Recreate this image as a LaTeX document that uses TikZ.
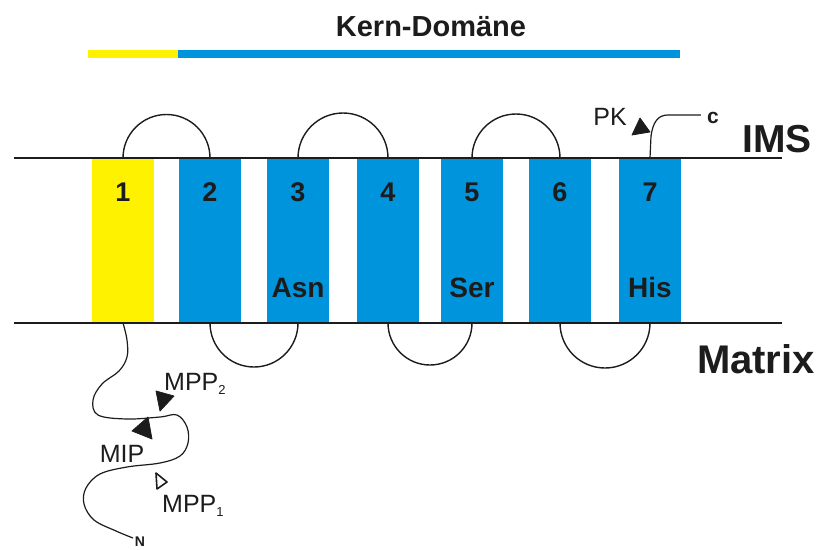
\documentclass[tikz,border=0pt]{standalone}
\usepackage{fontspec}
\setmainfont{Liberation Sans}
\definecolor{tmblue}{RGB}{0,148,221}
\definecolor{tmyellow}{RGB}{255,242,0}
\definecolor{ink}{RGB}{28,28,28}
\newcommand{\fs}[1]{\fontsize{#1}{#1}\selectfont}
\newcommand{\subsc}[1]{\raisebox{-4pt}{\fs{13}#1}}

\begin{document}
\begin{tikzpicture}[x=1pt,y=-1pt,
  helix/.style={minimum width=62pt, minimum height=165pt, inner sep=0pt, outer sep=0pt, draw=none},
  barpart/.style={minimum height=8pt, inner sep=0pt, outer sep=0pt, draw=none, anchor=west},
  wire/.style={draw=ink, line width=1.4pt},
  memline/.style={draw=ink, line width=1.4pt},
  num/.style={font=\bfseries\fs{27}, text=ink, anchor=base, inner sep=0pt},
  region/.style={font=\bfseries\fs{39}, text=ink, anchor=base, inner sep=0pt},
  site/.style={font=\fs{25}, text=ink, anchor=base, inner sep=0pt},
  cleave/.style={fill=ink, draw=ink, line width=0.8pt, line join=round},
  opencleave/.style={fill=white, draw=ink, line width=1.6pt, line join=round}]

\useasboundingbox (0,0) rectangle (819,549);

% core domain bar with title
\node[font=\bfseries\fs{29}, text=ink, anchor=base, inner sep=0pt] (title) at (431,36) {Kern-Domäne};
\node[barpart, fill=tmyellow, minimum width=90pt] (bary) at (88,54) {};
\node[barpart, fill=tmblue, minimum width=502pt] (barb) at (bary.east) {};

% transmembrane helices
\node[helix, fill=tmyellow] (h1) at (123,240.5) {};
\node[helix, fill=tmblue]   (h2) at (210,240.5) {};
\node[helix, fill=tmblue]   (h3) at (298,240.5) {};
\node[helix, fill=tmblue]   (h4) at (388,240.5) {};
\node[helix, fill=tmblue]   (h5) at (472,240.5) {};
\node[helix, fill=tmblue]   (h6) at (560,240.5) {};
\node[helix, fill=tmblue]   (h7) at (650,240.5) {};

% membrane boundaries
\coordinate (imsL) at (14,158);  \coordinate (imsR) at (782,158);
\coordinate (matL) at (14,323);  \coordinate (matR) at (782,323);
\draw[memline] (imsL) -- (imsR);
\draw[memline] (matL) -- (matR);

% helix numbers and residues
\foreach \i in {1,...,7} {
  \node[num] (n\i) at ([yshift=-43pt]h\i.north) {\i};
}
\node[num, font=\bfseries\fs{28}] (asn) at ([yshift=26pt]h3.south) {Asn};
\node[num, font=\bfseries\fs{28}] (ser) at ([yshift=26pt]h5.south) {Ser};
\node[num, font=\bfseries\fs{28}] (his) at ([yshift=26pt]h7.south) {His};

% loops in the intermembrane space
\draw[wire] (h1.north) arc[start angle=180, end angle=360, radius=43.5];
\draw[wire] (h3.north) arc[start angle=180, end angle=360, radius=45];
\draw[wire] (h5.north) arc[start angle=180, end angle=360, radius=44];
% loops in the matrix
\draw[wire] (h2.south) arc[start angle=180, end angle=0, radius=44];
\draw[wire] (h4.south) arc[start angle=180, end angle=0, radius=42];
\draw[wire] (h6.south) arc[start angle=180, end angle=0, radius=45];

% compartment labels
\node[region] (ims) at (777,152) {IMS};
\node[region, font=\bfseries\fs{40}] (matrix) at (756,373) {Matrix};

% C-terminus with kinase site
\node[font=\bfseries\fs{21}, text=ink, anchor=base, inner sep=0pt] (cterm) at (713,123) {c};
\draw[wire, line width=1.2pt] (h7.north) -- (651,136) .. controls (653,122) and (658,115) .. (668,115) -- ([xshift=-6pt]cterm.west |- 0,115);
\draw[cleave] (632,135) -- (640,118) -- (650,132) -- cycle;
\node[site] (pk) at (610,125) {PK};

% N-terminal presequence
\coordinate (nend) at (133,538);
\draw[wire, line width=1.2pt] plot[smooth, tension=0.6] coordinates {
  (h1.south) (127,340) (127,357) (119,371) (102,384) (93,400) (98,415) (127,419)
  (160,417) (177,415) (187,427) (188,443) (180,456) (160,463) (127,467)
  (100,474) (86,488) (84,504) (94,520) (116,531) (nend)};
\node[font=\bfseries\fs{14}, text=ink, anchor=base, inner sep=0pt] (nterm) at (140,546) {N};

% processing sites
\draw[cleave] (156,391) -- (174,396) -- (160,411) -- cycle;
\node[site, anchor=base west] (mpp2) at (164,390) {MPP\subsc{2}};
\draw[cleave] (132,431) -- (148,417) -- (152,439) -- cycle;
\node[site] (mip) at (122,462) {MIP};
\draw[opencleave] (156,473) -- (167,482) -- (157,489) -- cycle;
\node[site, anchor=base west] (mpp1) at (162,512) {MPP\subsc{1}};

\end{tikzpicture}
\end{document}
